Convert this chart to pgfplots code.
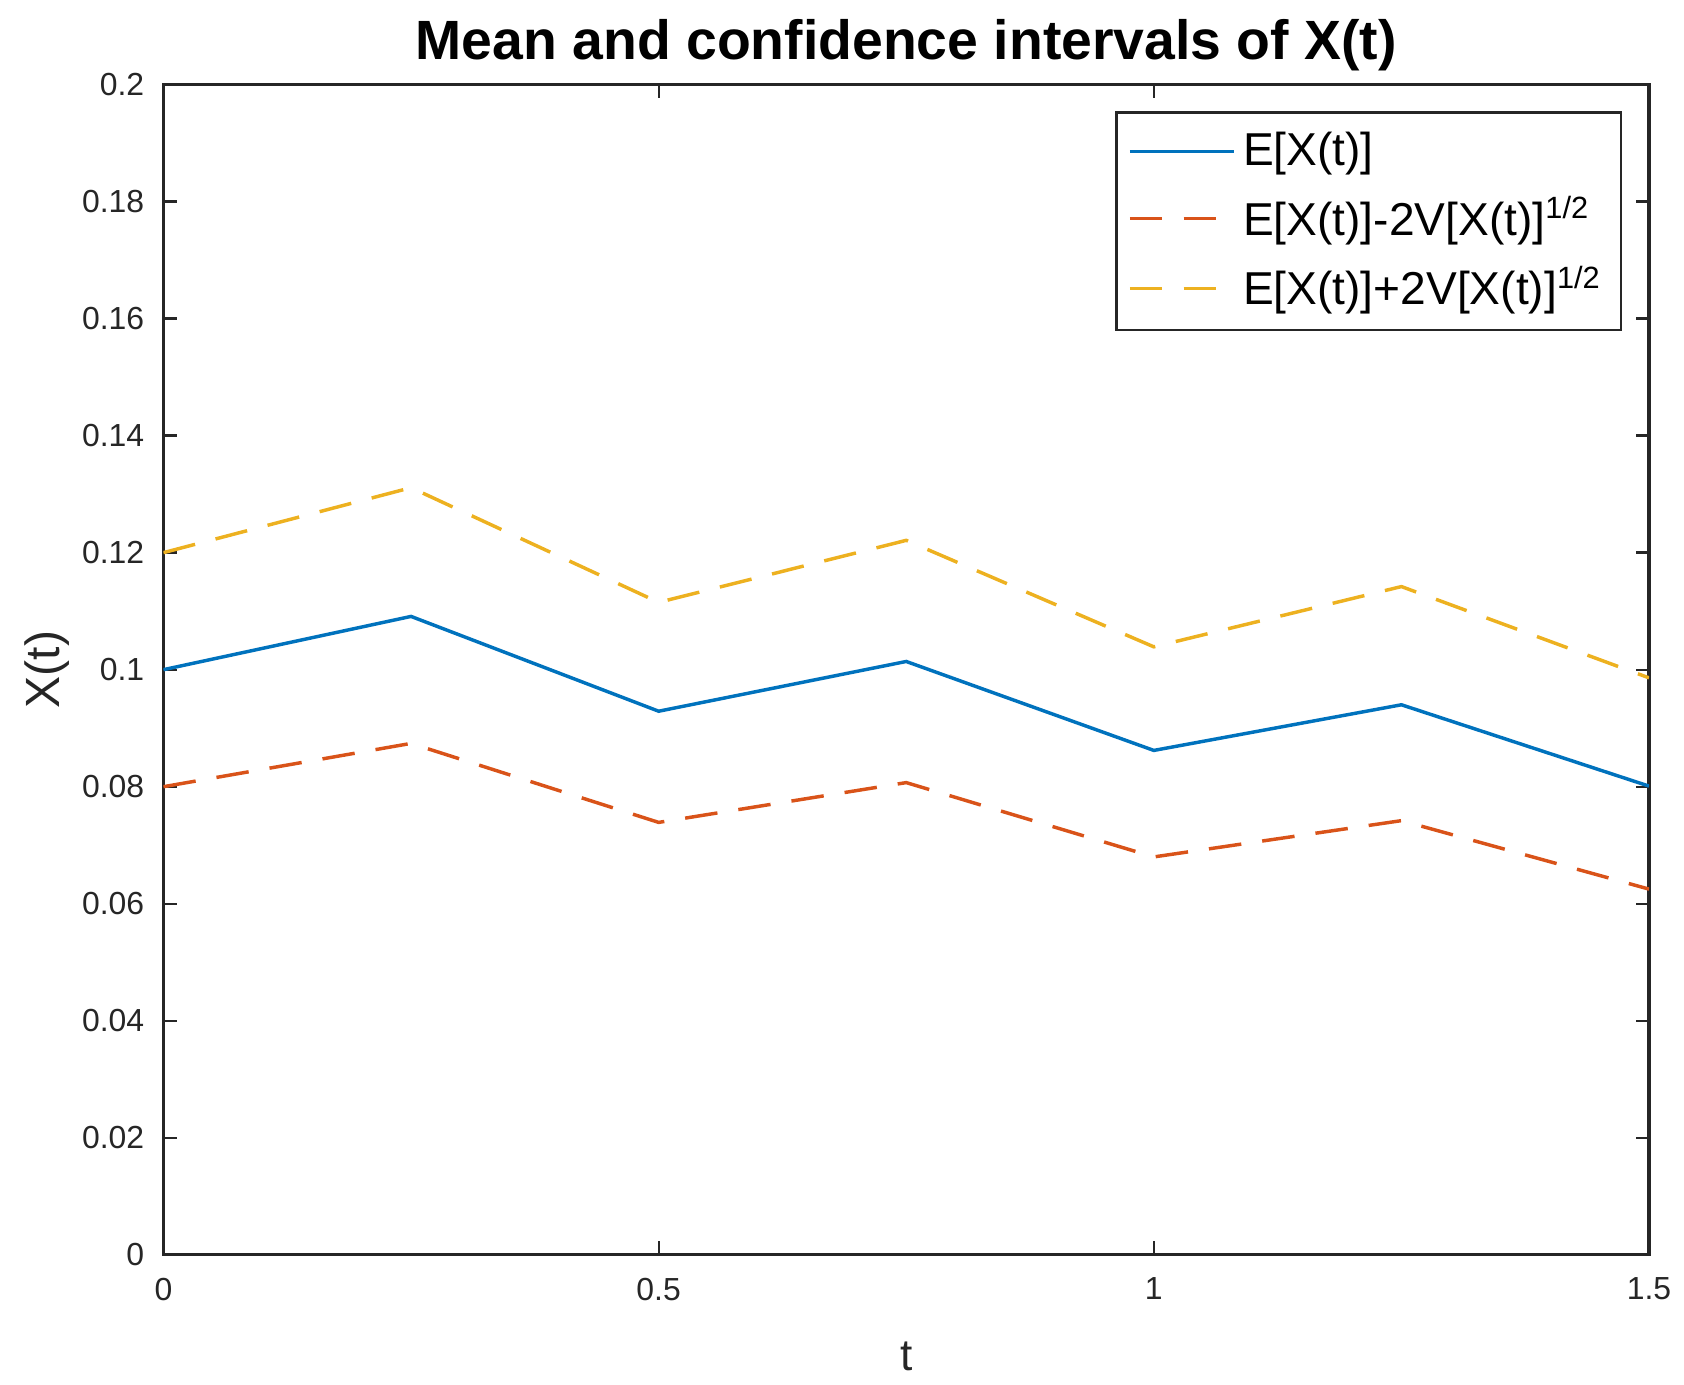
\documentclass[border=0pt]{standalone}
\usepackage{pgfplots}
\pgfplotsset{compat=1.18}
\usepackage{fontspec}
\setmainfont{Liberation Sans}

\definecolor{mblue}{rgb}{0,0.447,0.741}
\definecolor{morange}{rgb}{0.85,0.325,0.098}
\definecolor{myellow}{rgb}{0.929,0.694,0.125}
\definecolor{mgrey}{rgb}{0.15,0.15,0.15}

\begin{document}
\begin{tikzpicture}
\begin{axis}[
    width=386.5pt, height=304.5pt, scale only axis,
    xmin=0, xmax=1.5,
    ymin=0, ymax=0.2,
    xtick={0,0.5,1,1.5},
    ytick={0,0.02,0.04,0.06,0.08,0.1,0.12,0.14,0.16,0.18,0.2},
    tick align=inside, tick pos=both,
    major tick length=3.5pt,
    axis line style={mgrey, line width=0.8pt},
    every tick/.style={mgrey, line width=0.6pt},
    /pgf/number format/assume math mode=true,
    yticklabel style={/pgf/number format/fixed, /pgf/number format/precision=2, xshift=-1.5pt},
    xticklabel style={/pgf/number format/fixed, yshift=-2.5pt},
    tick label style={font=\fontsize{8.3}{9}\selectfont, text=mgrey},
    xlabel={t}, ylabel={X(t)},
    xlabel style={font=\fontsize{11.5}{13}\selectfont, text=mgrey, yshift=-4pt},
    ylabel style={font=\fontsize{12.5}{14}\selectfont, text=mgrey, yshift=-3.5pt},
    title={Mean and confidence intervals of X(t)},
    title style={font=\bfseries\fontsize{14.4}{16}\selectfont, yshift=-6pt},
    legend style={at={(0.982,0.977)}, anchor=north east,
        font=\fontsize{12}{14}\selectfont, draw=mgrey, line width=0.7pt,
        row sep=2.5pt, inner sep=3pt},
    legend cell align=left,
    legend image code/.code={\draw[#1] (0cm,0cm) -- (0.95cm,0cm);},
]

\addplot[color=mblue, line width=0.9pt] coordinates {
    (0,0.1000)(0.25,0.1091)(0.5,0.0929)(0.75,0.1014)(1,0.0862)(1.25,0.0940)(1.5,0.0801)
};
\addlegendentry{E[X(t)]};

\addplot[color=morange, line width=0.9pt, dash pattern=on 8.5pt off 5.5pt] coordinates {
    (0,0.0800)(0.25,0.0874)(0.5,0.0739)(0.75,0.0807)(1,0.0680)(1.25,0.0742)(1.5,0.0625)
};
\addlegendentry{E[X(t)]-2V[X(t)]\textsuperscript{1/2}};

\addplot[color=myellow, line width=0.9pt, dash pattern=on 8.5pt off 5.5pt] coordinates {
    (0,0.1200)(0.25,0.1311)(0.5,0.1115)(0.75,0.1221)(1,0.1039)(1.25,0.1142)(1.5,0.0986)
};
\addlegendentry{E[X(t)]+2V[X(t)]\textsuperscript{1/2}};

\end{axis}
% a little white margin on the left and on top, as in the reference
\path (current bounding box.west) ++(-3pt,0pt);
\path (current bounding box.north) ++(0pt,1.7pt);
\end{tikzpicture}
\end{document}
